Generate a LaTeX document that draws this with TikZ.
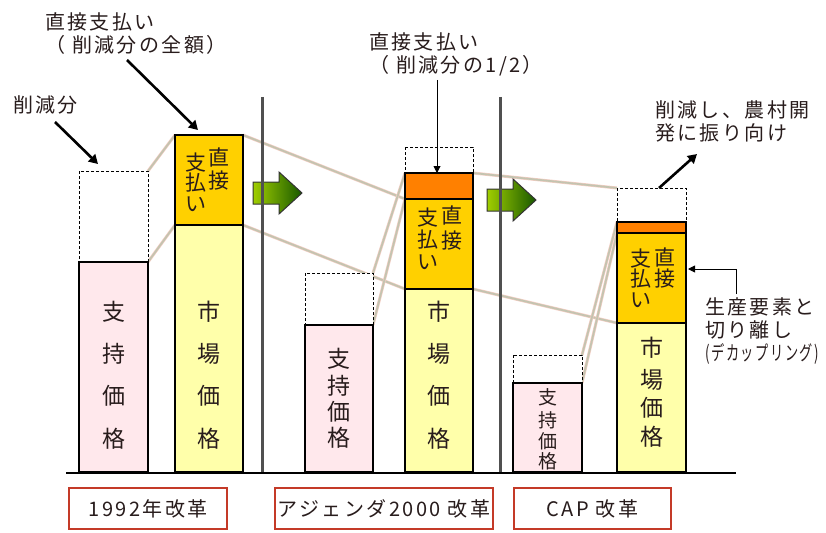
\documentclass[tikz,border=0pt]{standalone}
\usepackage{fontspec}
\setmainfont{Noto Sans CJK JP}
\newfontfamily\lblfont[LetterSpace=12]{Noto Sans CJK JP}
\usetikzlibrary{arrows.meta}

\definecolor{pinkbar}{RGB}{255,232,236}
\definecolor{marketbar}{RGB}{255,255,170}
\definecolor{paybar}{RGB}{255,208,0}
\definecolor{shiftbar}{RGB}{255,128,0}
\definecolor{linkedge}{RGB}{244,206,196}
\definecolor{linkcore}{RGB}{196,196,176}
\definecolor{framered}{RGB}{196,58,40}
\definecolor{sepgrey}{RGB}{80,80,80}
\definecolor{txt}{RGB}{40,28,28}

\tikzset{
  bar/.style={draw=black, line width=1.4pt},
  cutbox/.style={draw=black, fill=white, line width=1pt, dash pattern=on 3pt off 2pt},
  link/.style={draw=linkedge, line width=0.6pt, double=linkcore, double distance=1.8pt},
  lbl/.style={font=\lblfont\fontsize{20}{23}\selectfont, inner sep=0pt, align=left, text=txt},
  barch/.style={font=\fontsize{23}{23}\selectfont, inner sep=0pt, text=txt},
  paych/.style={font=\fontsize{21}{21}\selectfont, inner sep=0pt, text=txt},
  smallch/.style={font=\fontsize{19}{19}\selectfont, inner sep=0pt, text=txt},
  fatarrow/.style={line width=2.6pt, -{Triangle[length=9pt,width=10pt]}},
  thinarrow/.style={line width=0.9pt, -{Triangle[length=7pt,width=7pt]}},
  greenarrow/.style={draw=black!80, line width=1pt, left color={rgb,255:red,160;green,206;blue,0}, right color={rgb,255:red,24;green,88;blue,0}},
  yearbox/.style={draw=framered, line width=2pt, minimum height=41pt, font=\lblfont\fontsize{20}{20}\selectfont, text=txt}
}

\begin{document}
\begin{tikzpicture}[x=1pt,y=-1pt]
  \useasboundingbox (0,0) rectangle (826,532);

  % corners of the bars
  \coordinate (b1cut) at (148,171);  \coordinate (b1top) at (148,262);
  \coordinate (b2top) at (175,135);  \coordinate (b2mid) at (175,225);
  \coordinate (b2topr) at (243,135); \coordinate (b2midr) at (243,225);
  \coordinate (b3cut) at (373,273);  \coordinate (b3top) at (373,325);
  \coordinate (b4half) at (405,173); \coordinate (b4pay) at (405,199);
  \coordinate (b4mkt) at (405,289);
  \coordinate (b4halfr) at (473,173); \coordinate (b4mktr) at (473,289);
  \coordinate (b5cut) at (582,355);  \coordinate (b5top) at (582,383);
  \coordinate (b6cut) at (617,188);  \coordinate (b6shift) at (617,222);
  \coordinate (b6pay) at (617,233);  \coordinate (b6mkt) at (617,323);

  % links between the bars
  \draw[link] (b1cut) -- (b2top);
  \draw[link] (b1top) -- (b2mid);
  \draw[link] (b2topr) -- (b4pay);
  \draw[link] (b2midr) -- (b4mkt);
  \draw[link] (b3cut) -- (b4half);
  \draw[link] (b3top) -- (b4pay);
  \draw[link] (b4halfr) -- (b6cut);
  \draw[link] (b4mktr) -- (b6mkt);
  \draw[link] (b5cut) -- (b6shift);
  \draw[link] (b5top) -- (b6pay);

  % 1992
  \draw[cutbox] (79,171) rectangle (148,262);
  \draw[bar, fill=pinkbar] (79,262) rectangle (148,472);
  \draw[bar, fill=paybar] (175,135) rectangle (243,225);
  \draw[bar, fill=marketbar] (175,225) rectangle (243,472);

  % Agenda 2000
  \draw[cutbox] (305,273) rectangle (373,325);
  \draw[bar, fill=pinkbar] (305,325) rectangle (373,472);
  \draw[cutbox] (405,147) rectangle (473,173);
  \draw[bar, fill=shiftbar] (405,173) rectangle (473,199);
  \draw[bar, fill=paybar] (405,199) rectangle (473,289);
  \draw[bar, fill=marketbar] (405,289) rectangle (473,472);

  % CAP
  \draw[cutbox] (513,355) rectangle (582,383);
  \draw[bar, fill=pinkbar] (513,383) rectangle (582,472);
  \draw[cutbox] (617,188) rectangle (686,222);
  \draw[bar, fill=shiftbar] (617,222) rectangle (686,233);
  \draw[bar, fill=paybar] (617,233) rectangle (686,323);
  \draw[bar, fill=marketbar] (617,323) rectangle (686,472);

  % texts inside the bars
  \foreach \c/\y [count=\i] in {支/312,持/354,価/396,格/439}
    \node[barch] (supA\i) at (113.5,\y) {\c};
  \foreach \c/\y [count=\i] in {市/312,場/354,価/396,格/439}{
    \node[barch] (mktA\i) at (209,\y) {\c};
    \node[barch] (mktB\i) at (439,\y) {\c};
  }
  \foreach \c/\y [count=\i] in {支/359,持/386,価/412,格/438}
    \node[barch] (supB\i) at (339,\y) {\c};
  \foreach \c/\y [count=\i] in {支/397,持/420,価/441,格/461}
    \node[smallch] (supC\i) at (547.5,\y) {\c};
  \foreach \c/\y [count=\i] in {市/348,場/380,価/408,格/437}
    \node[barch] (mktC\i) at (651.5,\y) {\c};

  \foreach \c/\y [count=\i] in {直/157,接/181}
    \node[paych] (payAr\i) at (219,\y) {\c};
  \foreach \c/\y [count=\i] in {支/163,払/183,い/204}
    \node[paych] (payAl\i) at (196,\y) {\c};
  \foreach \c/\y [count=\i] in {直/215,接/241}
    \node[paych] (payBr\i) at (452,\y) {\c};
  \foreach \c/\y [count=\i] in {支/218,払/240,い/262}
    \node[paych] (payBl\i) at (428,\y) {\c};
  \foreach \c/\y [count=\i] in {直/257,接/279}
    \node[paych] (payCr\i) at (665,\y) {\c};
  \foreach \c/\y [count=\i] in {支/259,払/279,い/300}
    \node[paych] (payCl\i) at (641,\y) {\c};

  % green arrows between the reforms
  \foreach \x/\y in {253/182, 487/189}
    \draw[greenarrow, shift={(\x,\y)}] (0,0) -- (26,0) -- (26,-10) -- (49,11)
      -- (26,32) -- (26,22) -- (0,22) -- cycle;

  % separators and base line
  \draw[sepgrey, line width=3pt] (262,97) -- (262,472);
  \draw[sepgrey, line width=3pt] (500,97) -- (500,472);
  \draw[black, line width=2.6pt] (66,473) -- (736,473);

  % labels
  \node[lbl, anchor=north west] (cutfull) at (45,12) {直接支払い\\（ 削減分の全額）};
  \node[lbl, anchor=north west] (cutpart) at (13,95) {削減分};
  \node[lbl, anchor=north west] (cuthalf) at (369,32) {直接支払い\\（ 削減分の1/2）};
  \node[lbl, anchor=north west] (rural) at (655,100) {削減し、農村開\\発に振り向け};
  \node[lbl, anchor=north west] (decouple) at (705,297)
    {生産要素と\\切り離し\\\scalebox{0.66}[1]{(デカップリング)}};

  \coordinate (fullA) at (127,60);  \coordinate (fullB) at (198,130);
  \coordinate (partA) at (55,122);  \coordinate (partB) at (98,164);
  \coordinate (halfA) at (437,80);  \coordinate (halfB) at (437,173);
  \coordinate (ruralA) at (659,188); \coordinate (ruralB) at (697,154);
  \coordinate (decA) at (736,294);  \coordinate (decB) at (688,269);

  \draw[fatarrow] (fullA) -- (fullB);
  \draw[fatarrow] (partA) -- (partB);
  \draw[thinarrow] (halfA) -- (halfB);
  \draw[fatarrow] (ruralA) -- (ruralB);
  \draw[thinarrow] (decA) |- (decB);

  % reform names
  \node[yearbox, minimum width=158pt] (y1992) at (148,508.5) {1992年改革};
  \node[yearbox, minimum width=212pt] (y2000) at (384,508.5) {アジェンダ2000 改革};
  \node[yearbox, minimum width=157pt] (ycap) at (592.5,508.5) {CAP 改革};
\end{tikzpicture}
\end{document}
